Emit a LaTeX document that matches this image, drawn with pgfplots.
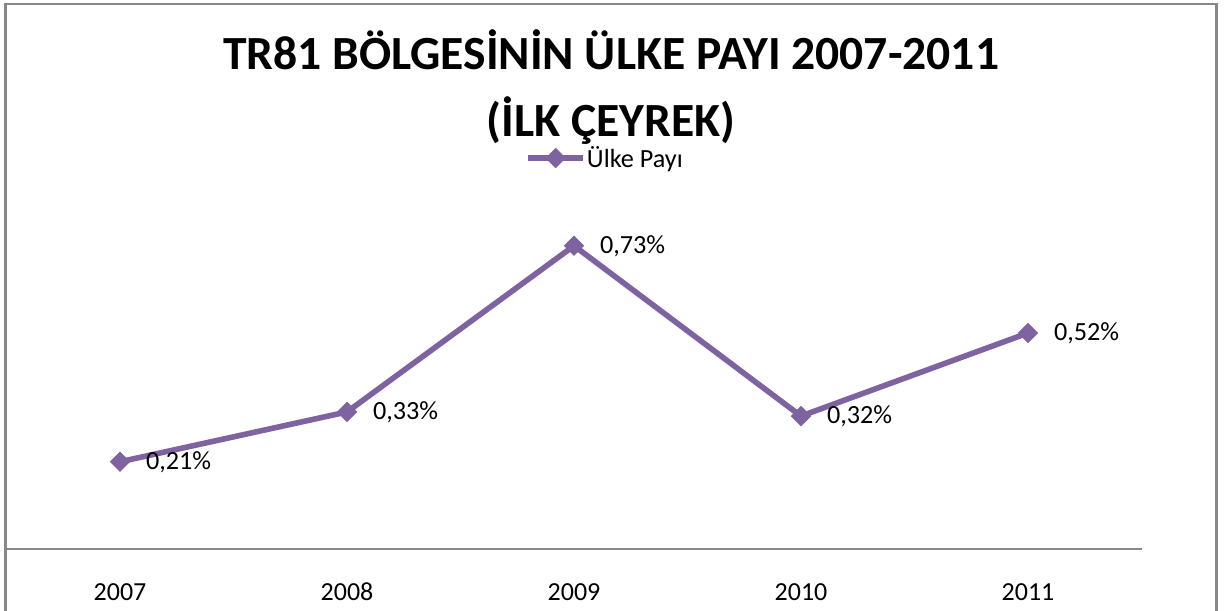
\documentclass[border=0pt]{standalone}
\usepackage{pgfplots}
\pgfplotsset{compat=1.18}
\usepackage{fontspec}
\setmainfont{Carlito}
\definecolor{lineC}{HTML}{7F63A1}
\definecolor{frameC}{HTML}{888888}

\begin{document}
\begin{tikzpicture}[x=1pt,y=1pt]
\useasboundingbox (0,0) rectangle (612,-305);
\fill[white] (0,0) rectangle (612,-305);
\begin{axis}[
  at={(3.25pt,-274.5pt)}, anchor=south west,
  scale only axis, width=567.5pt, height=166.15pt,
  xmin=-0.5, xmax=4.5, ymin=0, ymax=0.8,
  clip=false,
  axis x line*=bottom, axis y line=none,
  x axis line style={draw=frameC, line width=1.4pt, -},
  xtick={0,1,2,3,4}, xticklabels={2007,2008,2009,2010,2011},
  major tick length=0pt,
  xticklabel style={anchor=base, yshift=-25.5pt, font=\fontsize{13}{15}\selectfont},
  legend style={at={(0.4568,1.1766)}, anchor=west, draw=none, fill=none,
    inner sep=0pt, font=\fontsize{13.1}{15}\selectfont,
    nodes={inner sep=0.5pt}},
  legend image code/.code={\draw[mark repeat=2,mark phase=2,#1] plot coordinates {(0pt,0pt)(13.75pt,0pt)(27.5pt,0pt)};},
]
\addplot[lineC, line width=2.8pt, mark=square*, mark size=3.4pt,
  mark options={rotate=45, line width=0.4pt, fill=lineC, draw=lineC},
  nodes near coords, point meta=explicit symbolic,
  every node near coord/.append style={anchor=west, xshift=9.5pt, text=black,
    font=\fontsize{13.1}{15}\selectfont}]
  coordinates {
    (0,0.21) [0,21\%]
    (1,0.33) [0,33\%]
    (2,0.73) [0,73\%]
    (3,0.32) [0,32\%]
    (4,0.52) [0,52\%]
  };
\addlegendentry{Ülke Payı}
\end{axis}
\draw[frameC, line width=1.2pt] (2.75,-320) -- (2.75,-2) -- (608.25,-2) -- (608.25,-320);
\node[anchor=base, font=\fontsize{23.8}{26}\selectfont\bfseries] at (305.5,-35) {TR81 BÖLGESİNİN ÜLKE PAYI 2007-2011};
\node[anchor=base, font=\fontsize{23.8}{26}\selectfont\bfseries] at (305.5,-68) {(İLK ÇEYREK)};
\end{tikzpicture}
\end{document}
